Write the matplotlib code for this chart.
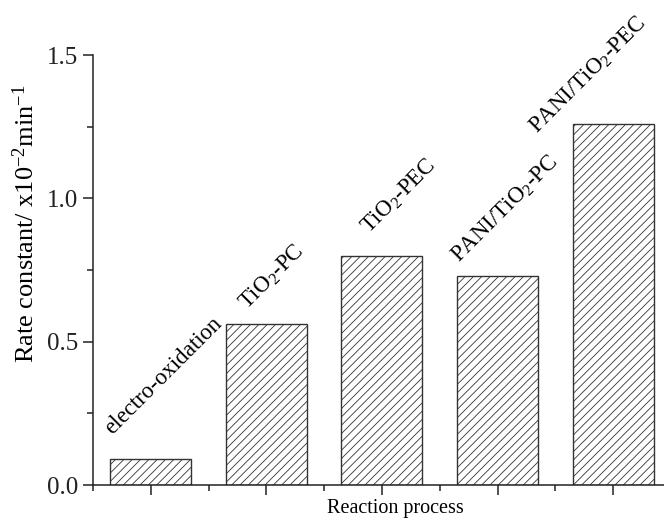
import matplotlib
matplotlib.use("Agg")
import matplotlib.pyplot as plt
from matplotlib.ticker import MultipleLocator

plt.rcParams['font.family'] = ['Liberation Serif', 'DejaVu Serif']
plt.rcParams['mathtext.fontset'] = 'custom'
plt.rcParams['mathtext.rm'] = 'Liberation Serif'
plt.rcParams['mathtext.it'] = 'Liberation Serif:italic'
plt.rcParams['hatch.linewidth'] = 0.6

# data
processes = ['electro-oxidation', 'TiO$_2$-PC', 'TiO$_2$-PEC',
             'PANI/TiO$_2$-PC', 'PANI/TiO$_2$-PEC']
rates = [0.09, 0.56, 0.80, 0.73, 1.26]

# label placement (offset from bar centre / top, data units)
label_dx = [-0.333, -0.168, -0.108, -0.33, -0.654]
label_dy = [0.085, 0.05, 0.075, 0.045, -0.036]

fig = plt.figure(figsize=(6.64, 5.18), dpi=100)
ax = fig.add_axes([0.140, 0.0637, 0.860, 0.830])

xs = list(range(len(rates)))
ax.bar(xs, rates, width=0.7, color='white', edgecolor='#333333',
       linewidth=1.0, hatch='////')

for i, (name, r) in enumerate(zip(processes, rates)):
    ax.text(i + label_dx[i], r + label_dy[i], name, rotation=45,
            rotation_mode='anchor', ha='left', va='baseline', fontsize=16.5)

ax.set_xlim(-0.5, 4.44)
ax.set_ylim(0, 1.5)
ax.spines['top'].set_visible(False)
ax.spines['right'].set_visible(False)
for s in ['left', 'bottom']:
    ax.spines[s].set_linewidth(1.1)
    ax.spines[s].set_color('#222222')

ax.set_xticks(xs)
ax.set_xticklabels([])
ax.xaxis.set_minor_locator(MultipleLocator(1, offset=0.5))
ax.yaxis.set_major_locator(MultipleLocator(0.5))
ax.yaxis.set_minor_locator(MultipleLocator(0.25))
ax.tick_params(which='major', direction='out', length=7, width=1.1,
               labelsize=18, colors='#222222')
ax.tick_params(which='minor', direction='out', length=4, width=1.1,
               colors='#222222')
ax.yaxis.set_major_formatter(matplotlib.ticker.FormatStrFormatter('%.1f'))

ax.set_ylabel('Rate constant/ x10$^{-2}$min$^{-1}$', fontsize=19)
ax.yaxis.set_label_coords(-0.094, 0.607)
ax.set_xlabel('Reaction process', fontsize=14.5)
ax.xaxis.set_label_coords(0.53, -0.032)

fig.savefig('out.png', dpi=100)
